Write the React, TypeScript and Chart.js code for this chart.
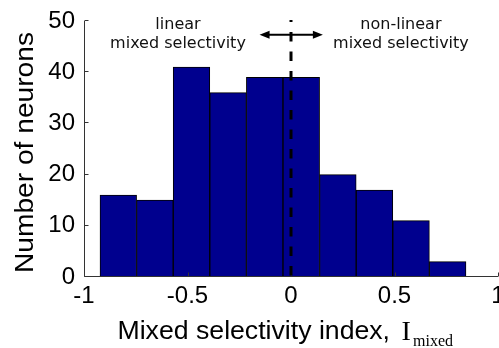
import { useEffect, useRef } from 'react';
import { Chart, registerables } from 'chart.js';

Chart.register(...registerables);

// ---- data ----
const binCenters = [-0.8343, -0.6575, -0.4807, -0.3039, -0.1271, 0.0497, 0.2265, 0.4033, 0.5801, 0.7569];
const neuronCounts = [16, 15, 41, 36, 39, 39, 20, 17, 11, 3];
const xTickValues = [-1, -0.5, 0, 0.5, 1];
const yTickValues = [0, 10, 20, 30, 40, 50];
const xRange = [-1, 1];
const yRange = [0, 50];

// ---- annotations (data coordinates) ----
const dividerX = 0;
const dividerTop = 50.2;
const arrowSpan = [-0.152, 0.154];
const arrowY = 47.3;
const leftLabelLines = ['linear', 'mixed selectivity'];
const rightLabelLines = ['non-linear', 'mixed selectivity'];
const leftLabelX = -0.546;
const rightLabelX = 0.531;
const labelLineY = [48.4, 44.7];

const yTitle = 'Number of neurons';
const xTitleMain = 'Mixed selectivity index,';
const xTitleSymbol = 'I';
const xTitleSub = 'mixed';

const BAR_FILL = '#00008E';
const SANS = '"Liberation Sans", Arial, sans-serif';
const SERIF = '"Liberation Serif", "Times New Roman", serif';

const overlayPlugin = {
  id: 'overlay',
  afterDatasetsDraw(chart: any) {
    const ctx = chart.ctx as CanvasRenderingContext2D;
    const xs = chart.scales.x;
    const ys = chart.scales.y;
    const x0 = Math.round(xs.getPixelForValue(xRange[0])) + 0.5;
    const x1 = xs.getPixelForValue(xRange[1]);
    const yb = Math.round(ys.getPixelForValue(yRange[0])) - 0.5;
    const yt = ys.getPixelForValue(yRange[1]);
    ctx.save();
    // axes
    ctx.strokeStyle = '#333';
    ctx.lineWidth = 1;
    ctx.beginPath();
    ctx.moveTo(x0, yt);
    ctx.lineTo(x0, yb);
    ctx.lineTo(x1, yb);
    ctx.stroke();
    // inward ticks
    ctx.beginPath();
    yTickValues.forEach((v) => {
      const p = Math.round(ys.getPixelForValue(v)) - 0.5;
      ctx.moveTo(x0, p);
      ctx.lineTo(x0 + 4, p);
    });
    xTickValues.forEach((v) => {
      const p = Math.round(xs.getPixelForValue(v)) + 0.5;
      ctx.moveTo(p, yb);
      ctx.lineTo(p, yb - 4);
    });
    ctx.stroke();

    // dashed divider
    const dx = xs.getPixelForValue(dividerX);
    ctx.strokeStyle = '#000';
    ctx.lineWidth = 3;
    ctx.setLineDash([9.5, 10]);
    ctx.lineDashOffset = 7.5;
    ctx.beginPath();
    ctx.moveTo(dx, ys.getPixelForValue(dividerTop));
    ctx.lineTo(dx, ys.getPixelForValue(yRange[0]));
    ctx.stroke();
    ctx.setLineDash([]);

    // double arrow
    const ay = ys.getPixelForValue(arrowY);
    const al = xs.getPixelForValue(arrowSpan[0]);
    const ar = xs.getPixelForValue(arrowSpan[1]);
    ctx.lineWidth = 2;
    ctx.beginPath();
    ctx.moveTo(al + 6, ay);
    ctx.lineTo(ar - 6, ay);
    ctx.stroke();
    ctx.fillStyle = '#000';
    ctx.beginPath();
    ctx.moveTo(al, ay);
    ctx.lineTo(al + 10, ay - 4);
    ctx.lineTo(al + 10, ay + 4);
    ctx.closePath();
    ctx.fill();
    ctx.beginPath();
    ctx.moveTo(ar, ay);
    ctx.lineTo(ar - 10, ay - 4);
    ctx.lineTo(ar - 10, ay + 4);
    ctx.closePath();
    ctx.fill();

    // region labels
    ctx.font = '16px "DejaVu Sans", sans-serif';
    ctx.fillStyle = '#111';
    ctx.textAlign = 'center';
    ctx.textBaseline = 'alphabetic';
    leftLabelLines.forEach((t, i) => {
      ctx.fillText(t, xs.getPixelForValue(leftLabelX), ys.getPixelForValue(labelLineY[i]));
    });
    rightLabelLines.forEach((t, i) => {
      ctx.fillText(t, xs.getPixelForValue(rightLabelX), ys.getPixelForValue(labelLineY[i]));
    });
    ctx.restore();
  },
  afterDraw(chart: any) {
    const ctx = chart.ctx as CanvasRenderingContext2D;
    ctx.save();
    ctx.fillStyle = '#000';
    // y title
    ctx.font = `26px ${SANS}`;
    const wy = ctx.measureText(yTitle).width;
    ctx.translate(33, 152.5);
    ctx.rotate(-Math.PI / 2);
    ctx.scale(241 / wy, 1);
    ctx.textAlign = 'center';
    ctx.textBaseline = 'alphabetic';
    ctx.fillText(yTitle, 0, 0);
    ctx.restore();

    ctx.save();
    ctx.fillStyle = '#000';
    ctx.textAlign = 'left';
    ctx.textBaseline = 'alphabetic';
    ctx.font = `26px ${SANS}`;
    const wx = ctx.measureText(xTitleMain).width;
    ctx.translate(117.5, 339);
    ctx.scale(272.5 / wx, 1);
    ctx.fillText(xTitleMain, 0, 0);
    ctx.restore();

    ctx.save();
    ctx.fillStyle = '#000';
    ctx.textAlign = 'left';
    ctx.textBaseline = 'alphabetic';
    ctx.font = `28px ${SERIF}`;
    ctx.fillText(xTitleSymbol, 401.5, 340);
    ctx.font = `16px ${SERIF}`;
    ctx.fillText(xTitleSub, 413, 346);
    ctx.restore();
  },
};

export default function App() {
  const ref = useRef<HTMLCanvasElement | null>(null);

  useEffect(() => {
    if (!ref.current) return;
    const chart = new Chart(ref.current, {
      type: 'bar',
      data: {
        datasets: [
          {
            data: binCenters.map((x, i) => ({ x, y: neuronCounts[i] })),
            backgroundColor: BAR_FILL,
            borderColor: '#000',
            borderWidth: 1,
            borderSkipped: 'bottom',
            barPercentage: 1,
            categoryPercentage: 1,
          } as any,
        ],
      },
      options: {
        animation: false,
        responsive: false,
        maintainAspectRatio: false,
        layout: { padding: { top: 21, right: 1, left: 0, bottom: 0 } },
        plugins: { legend: { display: false }, tooltip: { enabled: false } },
        scales: {
          x: {
            type: 'linear',
            min: xRange[0],
            max: xRange[1],
            offset: false,
            grid: { display: false, drawTicks: false },
            border: { display: false },
            afterBuildTicks: (s: any) => {
              s.ticks = xTickValues.map((v) => ({ value: v }));
            },
            afterFit: (s: any) => {
              s.height = 71;
              s.paddingLeft = 0;
              s.paddingRight = 0;
            },
            ticks: {
              padding: 5,
              color: '#000',
              autoSkip: false,
              maxRotation: 0,
              font: { family: SANS, size: 24 },
              callback: (v: any) => String(v),
            },
          },
          y: {
            type: 'linear',
            min: yRange[0],
            max: yRange[1],
            grid: { display: false, drawTicks: false },
            border: { display: false },
            afterBuildTicks: (s: any) => {
              s.ticks = yTickValues.map((v) => ({ value: v }));
            },
            afterFit: (s: any) => {
              s.width = 84;
              s.paddingTop = 0;
              s.paddingBottom = 0;
            },
            ticks: {
              padding: 9,
              color: '#000',
              font: { family: SANS, size: 24 },
              callback: (v: any) => String(v),
            },
          },
        },
      },
      plugins: [overlayPlugin],
    });
    return () => chart.destroy();
  }, []);

  return (
    <div style={{ position: 'fixed', left: 0, top: 0, width: 499, height: 348, background: '#fff' }}>
      <canvas ref={ref} width={499} height={348} style={{ display: 'block', width: 499, height: 348 }} />
    </div>
  );
}
